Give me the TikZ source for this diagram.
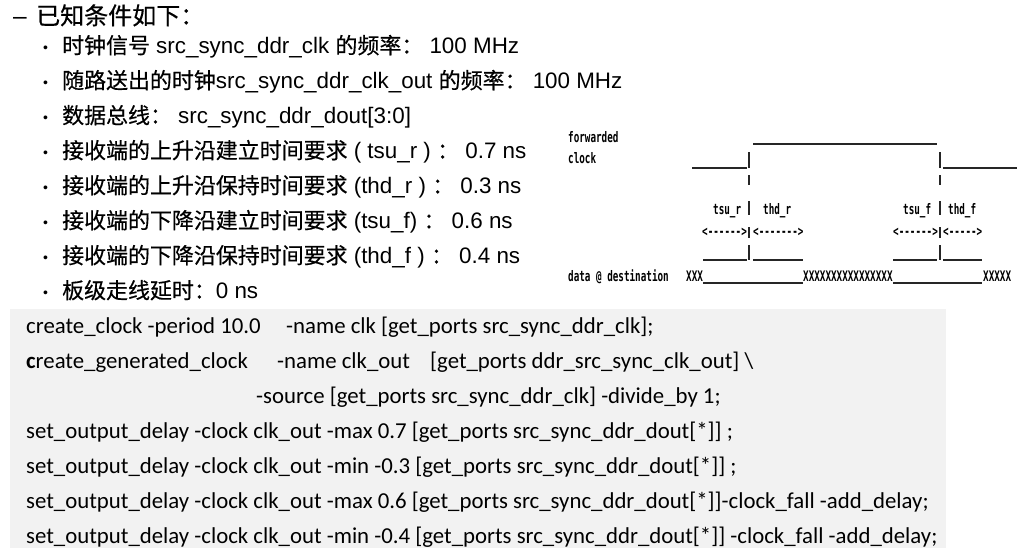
\documentclass[tikz,border=0pt]{standalone}
\usepackage{fontspec}
\setmainfont{Liberation Sans}
\newfontfamily\cjk[Scale=0.98,FakeBold=0.5]{Noto Sans CJK SC}
\newfontfamily\codefont{Carlito}
\newfontfamily\pixfont[FakeStretch=0.64,Ligatures=TeXOff]{DejaVu Sans Mono}
\usepackage{tikz}
\usetikzlibrary{positioning}
\newcommand{\zh}[1]{{\cjk #1}}

\begin{document}
\begin{tikzpicture}[x=1pt, y=-1pt]

\tikzset
  {
    txt/.style=  {anchor=base west, inner sep=0pt, font=\fontsize{22.4}{26}\selectfont},
    headtxt/.style= {txt, font=\fontsize{24.5}{28}\selectfont},
    dotmark/.style= {anchor=base west, inner sep=0pt, font=\fontsize{14}{16}\selectfont},
    code/.style= {anchor=base west, inner sep=0pt, font=\codefont\fontsize{22.8}{26}\selectfont},
    pix/.style=  {anchor=base west, inner sep=0pt, font=\pixfont\bfseries\fontsize{14.5}{16}\selectfont},
    wave/.style= {black!85, line width=1.3pt}
  }

\useasboundingbox (0,0) rectangle (1025,557);


% conditions
\node[headtxt] (dash) at (13,24) {–};
\node[headtxt] (head) at (36,24.5) {\zh{已知条件如下：}};

\foreach \y in {1,...,8}
\node[dotmark] (dot\y) at (43,17.5+35*\y) {•};

\node[txt] (b1) at (62,53.5) {\zh{时钟信号} src\_sync\_ddr\_clk \zh{的频率：} 100 MHz};
\node[txt] (b2) at (62,88.5) {\zh{随路送出的时钟}src\_sync\_ddr\_clk\_out \zh{的频率：} 100 MHz};
\node[txt] (b3) at (62,123.5) {\zh{数据总线：} src\_sync\_ddr\_dout[3:0]};
\node[txt] (b4) at (62,158.5) {\zh{接收端的上升沿建立时间要求} ( tsu\_r ) \zh{：} 0.7 ns};
\node[txt] (b5) at (62,193.5) {\zh{接收端的上升沿保持时间要求} (thd\_r ) \zh{：} 0.3 ns};
\node[txt] (b6) at (62,228.5) {\zh{接收端的下降沿建立时间要求} (tsu\_f) \zh{：} 0.6 ns};
\node[txt] (b7) at (62,263.5) {\zh{接收端的下降沿保持时间要求} (thd\_f ) \zh{：} 0.4 ns};
\node[txt] (b8) at (62,298.5) {\zh{板级走线延时：}0 ns};


% timing
\node[pix] (fwd) at (568,142) {forwarded};
\node[pix] (clk) at (568,163) {clock};
\node[pix] (dst) at (568,281) {data @ destination};

\draw[wave] (692,168)--(747,168);
\draw[wave] (753,144)--(937,144);
\draw[wave] (943,168)--(1017,168);

\foreach \x in {749,940}
\foreach \a/\b in {152/168,175/185,201/215,227/238,245/260}
\draw[wave] (\x,\a)--(\x,\b);

\node[pix] (tsur) at (713,214) {tsu\_r};
\node[pix] (thdr) at (763,214) {thd\_r};
\node[pix] (tsuf) at (903,214) {tsu\_f};
\node[pix] (thdf) at (948,214) {thd\_f};

\node[pix] (atsur) at (702,236) {<------>};
\node[pix] (athdr) at (753,236) {<------->};
\node[pix] (atsuf) at (893,236) {<------>};
\node[pix] (athdf) at (943,236) {<----->};

\draw[wave] (703,260)--(747,260);
\draw[wave] (753,260)--(803,260);
\draw[wave] (893,260)--(937,260);
\draw[wave] (943,260)--(982,260);
\draw[wave] (703,283)--(803,283);
\draw[wave] (893,283)--(982,283);

\node[pix] (x1) at (686,281) {XXX};
\node[pix] (x2) at (803,281) {XXXXXXXXXXXXXXXX};
\node[pix] (x3) at (983,281) {XXXXX};


% constraints
\fill[gray!10] (10,309) rectangle (946,548);

\node[code] (c1) at (26,333) {create\_clock -period 10.0};
\node[code] (c1b) at (286,333) {-name clk [get\_ports src\_sync\_ddr\_clk];};
\node[code] (c2) at (26,368) {\textbf{c}reate\_generated\_clock};
\node[code] (c2b) at (277,368) {-name clk\_out};
\node[code] (c2c) at (430,368) {[get\_ports ddr\_src\_sync\_clk\_out] \textbackslash};
\node[code] (c3) at (256,403) {-source [get\_ports src\_sync\_ddr\_clk] -divide\_by 1;};
\node[code] (c4) at (26,438) {set\_output\_delay -clock clk\_out -max 0.7 [get\_ports src\_sync\_ddr\_dout[*]] ;};
\node[code] (c5) at (26,473) {set\_output\_delay -clock clk\_out -min -0.3 [get\_ports src\_sync\_ddr\_dout[*]] ;};
\node[code] (c6) at (26,508) {set\_output\_delay -clock clk\_out -max 0.6 [get\_ports src\_sync\_ddr\_dout[*]]-clock\_fall -add\_delay;};
\node[code] (c7) at (26,543) {set\_output\_delay -clock clk\_out -min -0.4 [get\_ports src\_sync\_ddr\_dout[*]] -clock\_fall -add\_delay;};

\end{tikzpicture}
\end{document}
